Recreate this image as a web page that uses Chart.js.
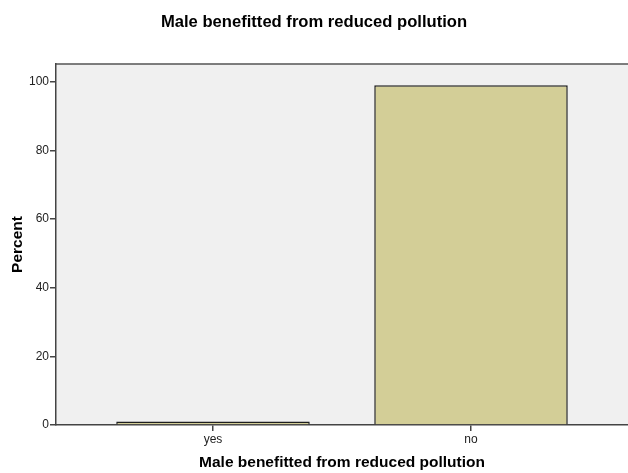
<!DOCTYPE html>
<html>
<head>
<meta charset="utf-8">
<script src="https://cdn.jsdelivr.net/npm/chart.js@4"></script>
<style>
  html, body { margin: 0; padding: 0; background: #fff; }
  #wrap { width: 628px; height: 473px; position: relative; }
</style>
</head>
<body>
<div id="wrap"><canvas id="chart"></canvas></div>
<script>
const categories = ['yes', 'no'];
const percentValues = [1.0, 99.0];
const yTicks = [0, 20, 40, 60, 80, 100];
const chartTitle = 'Male benefitted from reduced pollution';
const xAxisTitle = 'Male benefitted from reduced pollution';
const yAxisTitle = 'Percent';

// fond gris de la zone de tracé + trait du haut
const plotBackground = {
  id: 'plotBackground',
  beforeDraw(chart) {
    const { ctx, chartArea: a } = chart;
    ctx.save();
    ctx.fillStyle = '#f0f0f0';
    ctx.fillRect(a.left, a.top, a.right - a.left, a.bottom - a.top);
    ctx.strokeStyle = '#555';
    ctx.lineWidth = 1.5;
    ctx.beginPath();
    ctx.moveTo(a.left, a.top);
    ctx.lineTo(a.right, a.top);
    ctx.stroke();
    ctx.restore();
  }
};

const ctx = document.getElementById('chart').getContext('2d');
new Chart(ctx, {
  type: 'bar',
  data: {
    labels: categories,
    datasets: [{
      data: percentValues,
      backgroundColor: '#d3ce97',
      borderColor: '#1e1e1e',
      borderWidth: 1.5,
      barPercentage: 1,
      categoryPercentage: 0.75
    }]
  },
  plugins: [plotBackground],
  options: {
    responsive: true,
    maintainAspectRatio: false,
    animation: false,
    layout: { padding: { left: 0, right: 0, top: 0, bottom: 0 } },
    plugins: {
      legend: { display: false },
      tooltip: { enabled: false },
      title: {
        display: true,
        text: chartTitle,
        color: '#000',
        font: { family: 'Liberation Sans', size: 16.6, weight: 'bold' },
        padding: { top: 12, bottom: 32 }
      }
    },
    scales: {
      x: {
        offset: false,
        afterBuildTicks(scale) {
          // marges de part et d'autre comme dans SPSS
          scale._startValue = -0.6085;
          scale._valueRange = 2.217;
        },
        afterFit(scale) { scale.height = 48; },
        grid: { display: true, offset: false, drawOnChartArea: false, drawTicks: true, tickLength: 6, color: '#444', lineWidth: 1.5 },
        border: { display: true, color: '#444', width: 1.5 },
        ticks: { color: '#222', font: { family: 'Liberation Sans', size: 12 }, padding: 1 },
        title: {
          display: true,
          text: xAxisTitle,
          color: '#000',
          font: { family: 'Liberation Sans', size: 15.5, weight: 'bold' },
          padding: { top: 0, bottom: 1 }
        }
      },
      y: {
        min: 0,
        max: 105.2,
        afterFit(scale) { scale.width = 56; },
        afterBuildTicks(scale) { scale.ticks = yTicks.map(v => ({ value: v })); },
        grid: { display: true, drawOnChartArea: false, drawTicks: true, tickLength: 6, color: '#444', lineWidth: 1.5 },
        border: { display: true, color: '#444', width: 1.5 },
        ticks: { color: '#222', font: { family: 'Liberation Sans', size: 12 }, padding: 1 },
        title: {
          display: true,
          text: yAxisTitle,
          color: '#000',
          font: { family: 'Liberation Sans', size: 15.5, weight: 'bold' },
          padding: { top: 8, bottom: 0 }
        }
      }
    }
  }
});
</script>
</body>
</html>
